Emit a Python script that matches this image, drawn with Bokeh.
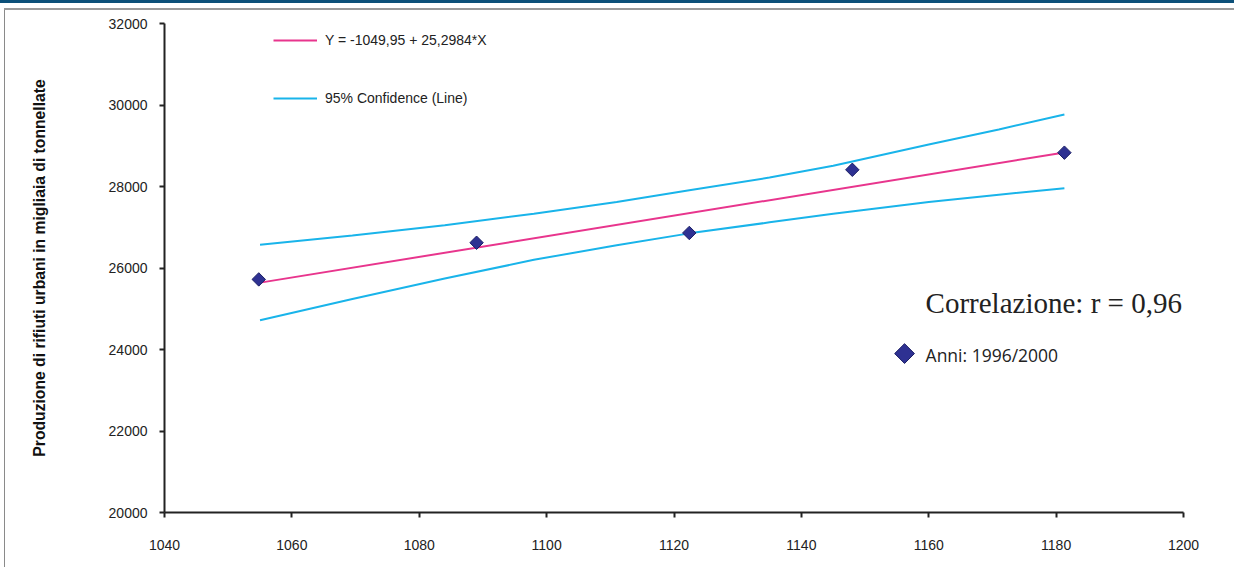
import numpy as np
from bokeh.plotting import figure
from bokeh.models import Range1d, Legend, LegendItem, Label, Div
from bokeh.layouts import column, row
from bokeh.embed import file_html
from bokeh.resources import INLINE

# Observed points, 1996-2000
pop = [1054.8, 1089.0, 1122.4, 1148.0, 1181.3]
waste = [25720, 26620, 26860, 28410, 28830]

# Fitted regression line (coefficients as printed in the legend)
intercept = -1049.95
slope = 25.2984
fit_x = [pop[0], pop[-1]]
fit_y = [intercept + slope * v for v in fit_x]

# 95% confidence limits of the fitted line
band_x = [1055.0, 1069.5, 1084.0, 1098.0, 1111.0, 1122.4, 1135.0, 1145.0, 1160.0, 1171.0, 1181.3]
band_hi = [26570, 26800, 27050, 27330, 27620, 27910, 28220, 28510, 29030, 29400, 29765]
band_lo = [24720, 25240, 25740, 26200, 26560, 26850, 27120, 27330, 27620, 27800, 27955]

x_ticks = [1040, 1060, 1080, 1100, 1120, 1140, 1160, 1180, 1200]
y_ticks = [20000, 22000, 24000, 26000, 28000, 30000, 32000]

PINK = "#e8358d"
CYAN = "#19b4ea"
NAVY = "#2e3192"

# placement of the point-legend key and of the notes (data coordinates)
KEY_X, KEY_Y = 1156.2, 23900
NOTE_X = 1159.5

p = figure(width=1229, height=557,
           x_range=Range1d(1040, 1200), y_range=Range1d(20000, 32000),
           output_backend="svg", toolbar_location=None,
           min_border_left=159, min_border_right=51,
           min_border_top=13, min_border_bottom=55,
           outline_line_color=None,
           background_fill_color="white", border_fill_color="white")
p.grid.visible = False

for ax in (p.xaxis, p.yaxis):
    ax.axis_line_color = "#222222"
    ax.axis_line_width = 2
    ax.major_tick_line_color = "#222222"
    ax.major_tick_line_width = 2
    ax.major_tick_out = 5
    ax.major_tick_in = 0
    ax.minor_tick_line_color = None
    ax.major_label_text_font = "Liberation Sans"
    ax.major_label_text_font_size = "14px"
    ax.major_label_text_color = "#222222"

p.xaxis.ticker = x_ticks
p.yaxis.ticker = y_ticks
p.xaxis.major_label_standoff = 22
p.yaxis.major_label_standoff = 12

p.yaxis.axis_label = "Produzione di rifiuti urbani in migliaia di tonnellate"
p.yaxis.axis_label_text_font = "Liberation Sans"
p.yaxis.axis_label_text_font_style = "bold"
p.yaxis.axis_label_text_font_size = "15.7px"
p.yaxis.axis_label_text_color = "#111111"
p.yaxis.axis_label_standoff = 58

hi = p.line(band_x, band_hi, line_color=CYAN, line_width=2)
p.line(band_x, band_lo, line_color=CYAN, line_width=2)
fit = p.line(fit_x, fit_y, line_color=PINK, line_width=2)
p.scatter(pop, waste, marker="square", angle=np.pi / 4, size=9.5,
          fill_color=NAVY, line_color="#1c1f66", line_width=1)

leg = Legend(items=[LegendItem(label="Y = -1049,95 + 25,2984*X", renderers=[fit]),
                    LegendItem(label="95% Confidence (Line)", renderers=[hi])],
             location=(109, 406), orientation="vertical",
             glyph_width=44, glyph_height=16, label_height=16,
             label_standoff=8, spacing=42, padding=0, margin=0,
             border_line_color=None, background_fill_alpha=0,
             label_text_font="Liberation Sans", label_text_font_size="14px",
             label_text_color="#222222")
p.add_layout(leg)

# key for the observed points
p.scatter([KEY_X], [KEY_Y], marker="square", angle=np.pi / 4, size=14,
          fill_color=NAVY, line_color="#1c1f66", line_width=1)
p.add_layout(Label(x=NOTE_X, y=KEY_Y - 40, text="Anni: 1996/2000",
                   text_font="Open Sans", text_font_size="17.5px",
                   text_color="#222222", text_baseline="middle"))

p.add_layout(Label(x=NOTE_X, y=25130, text="Correlazione: r = 0,96",
                   text_font="Liberation Serif", text_font_size="29px",
                   text_color="#222222", text_baseline="alphabetic"))

top = Div(width=1234, height=10, margin=0,
          text='<div style="position:absolute;left:0;top:0;width:1234px;height:3px;background:#0c5079"></div>'
               '<div style="position:absolute;left:4px;top:8px;width:1230px;height:2px;background:#9a9a9a"></div>')
side = Div(width=5, height=557, margin=0,
           text='<div style="position:absolute;left:4px;top:0;width:1px;height:557px;background:#8a8a8a"></div>')

layout = column(top, row(side, p, spacing=0), spacing=0)

open("out.html", "w").write(file_html(layout, INLINE))
